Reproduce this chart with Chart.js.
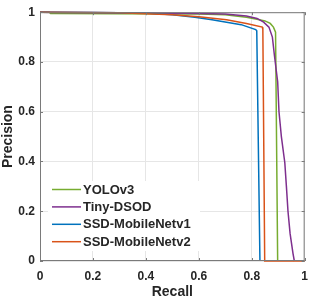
<!DOCTYPE html>
<html>
<head>
<meta charset="utf-8">
<script src="https://cdn.jsdelivr.net/npm/chart.js@4/dist/chart.umd.min.js"></script>
<style>
  html, body { margin: 0; padding: 0; background: #fff; }
  canvas { display: block; }
</style>
</head>
<body>
<canvas id="prChart" width="316" height="301"></canvas>
<script>
// series names (legend order)
var seriesNames = ['YOLOv3', 'Tiny-DSOD', 'SSD-MobileNetv1', 'SSD-MobileNetv2'];

// recall / precision points
var yoloRecall = [0, 0.035, 0.04, 0.3, 0.6, 0.7, 0.78, 0.82, 0.85, 0.87, 0.882, 0.89, 0.898];
var yoloPrecision = [1, 1, 0.995, 0.994, 0.993, 0.99, 0.98, 0.972, 0.965, 0.955, 0.94, 0.92, 0];

var tinyRecall = [0, 0.3, 0.6, 0.7, 0.78, 0.82, 0.845, 0.865, 0.878, 0.886, 0.898, 0.903, 0.912, 0.925, 0.931, 0.937, 0.945, 0.956, 0.961];
var tinyPrecision = [1, 0.998, 0.995, 0.993, 0.985, 0.975, 0.96, 0.94, 0.9, 0.824, 0.72, 0.6, 0.5, 0.395, 0.3, 0.2, 0.11, 0.03, 0];

var v1Recall = [0, 0.2, 0.4, 0.5, 0.585, 0.65, 0.705, 0.76, 0.815, 0.819, 0.831];
var v1Precision = [1, 0.999, 0.997, 0.99, 0.98, 0.97, 0.96, 0.95, 0.93, 0.925, 0];

var v2Recall = [0, 0.3, 0.5, 0.6, 0.705, 0.78, 0.84, 0.842, 0.849, 1];
var v2Precision = [1, 0.998, 0.99, 0.982, 0.97, 0.955, 0.94, 0.93, 0, 0];

// tick labels
var xTicks = [0, 0.2, 0.4, 0.6, 0.8, 1];
var yTicks = [0, 0.2, 0.4, 0.6, 0.8, 1];

var colors = ['#77AC30', '#7E2F8E', '#0072BD', '#D95319'];
var FONT = "'Liberation Sans', Arial, Helvetica, sans-serif";
var TEXT = '#262626';

function pts(xs, ys) {
  return xs.map(function (x, i) { return { x: x, y: ys[i] }; });
}

var allRecall = [yoloRecall, tinyRecall, v1Recall, v2Recall];
var allPrecision = [yoloPrecision, tinyPrecision, v1Precision, v2Precision];

var datasets = seriesNames.map(function (name, i) {
  return {
    label: name,
    data: pts(allRecall[i], allPrecision[i]),
    borderColor: colors[i],
    backgroundColor: colors[i],
    borderWidth: 1.5,
    pointRadius: 0,
    tension: 0,
    fill: false,
    clip: 2,
    order: seriesNames.length - i
  };
});

// MATLAB-style box, inward ticks and legend inside the axes
var boxPlugin = {
  id: 'boxPlugin',
  afterDraw: function (chart) {
    var ctx = chart.ctx;
    var a = chart.chartArea;
    var xs = chart.scales.x, ys = chart.scales.y;
    ctx.save();
    ctx.strokeStyle = '#7a7a7a';
    ctx.lineWidth = 1;
    ctx.strokeRect(a.left + 0.5, a.top + 0.5, a.right - a.left - 1, a.bottom - a.top - 1);
    ctx.beginPath();
    xTicks.forEach(function (v) {
      var px = Math.round(xs.getPixelForValue(v)) + 0.5;
      ctx.moveTo(px, a.bottom); ctx.lineTo(px, a.bottom - 3);
      ctx.moveTo(px, a.top); ctx.lineTo(px, a.top + 3);
    });
    yTicks.forEach(function (v) {
      var py = Math.round(ys.getPixelForValue(v)) + 0.5;
      ctx.moveTo(a.left, py); ctx.lineTo(a.left + 3, py);
      ctx.moveTo(a.right, py); ctx.lineTo(a.right - 3, py);
    });
    ctx.stroke();

    // legend
    var lx = 48, ly = 181, rowH = 17.4;
    ctx.fillStyle = '#fff';
    ctx.fillRect(lx, ly, 152, 70);
    ctx.font = 'bold 13px ' + FONT;
    ctx.textBaseline = 'middle';
    chart.data.datasets.forEach(function (ds, i) {
      var y = ly + 8.5 + i * rowH;
      ctx.strokeStyle = ds.borderColor;
      ctx.lineWidth = 1.5;
      ctx.beginPath();
      ctx.moveTo(52, y); ctx.lineTo(81, y);
      ctx.stroke();
      ctx.fillStyle = TEXT;
      ctx.fillText(ds.label, 83, y + 0.5);
    });
    ctx.restore();
  }
};

var ctx = document.getElementById('prChart').getContext('2d');
var myChart = new Chart(ctx, {
  type: 'line',
  data: { datasets: datasets },
  plugins: [boxPlugin],
  options: {
    responsive: false,
    animation: false,
    parsing: true,
    layout: { padding: { left: 0, right: 2, top: 5, bottom: 0 } },
    plugins: {
      legend: { display: false },
      tooltip: { enabled: false }
    },
    scales: {
      x: {
        type: 'linear',
        min: 0,
        max: 1,
        afterBuildTicks: function (scale) {
          scale.ticks = xTicks.map(function (v) { return { value: v }; });
        },
        afterFit: function (scale) { scale.height = 40; },
        grid: { color: '#e6e6e6', drawTicks: false },
        border: { display: false },
        ticks: {
          padding: 8,
          maxRotation: 0,
          color: TEXT,
          font: { family: FONT, size: 12, weight: 'bold' },
          callback: function (v) { return String(Math.round(v * 10) / 10); }
        },
        title: {
          display: true,
          text: 'Recall',
          color: TEXT,
          padding: 0,
          font: { family: FONT, size: 14, weight: 'bold' }
        }
      },
      y: {
        type: 'linear',
        min: 0,
        max: 1,
        afterBuildTicks: function (scale) {
          scale.ticks = yTicks.map(function (v) { return { value: v }; });
        },
        afterFit: function (scale) { scale.width = 40; },
        grid: { color: '#e6e6e6', drawTicks: false },
        border: { display: false },
        ticks: {
          padding: 5,
          color: TEXT,
          font: { family: FONT, size: 12, weight: 'bold' },
          callback: function (v) { return String(Math.round(v * 10) / 10); }
        },
        title: {
          display: true,
          text: 'Precision',
          color: TEXT,
          padding: 0,
          font: { family: FONT, size: 14, weight: 'bold' }
        }
      }
    }
  }
});
</script>
</body>
</html>
